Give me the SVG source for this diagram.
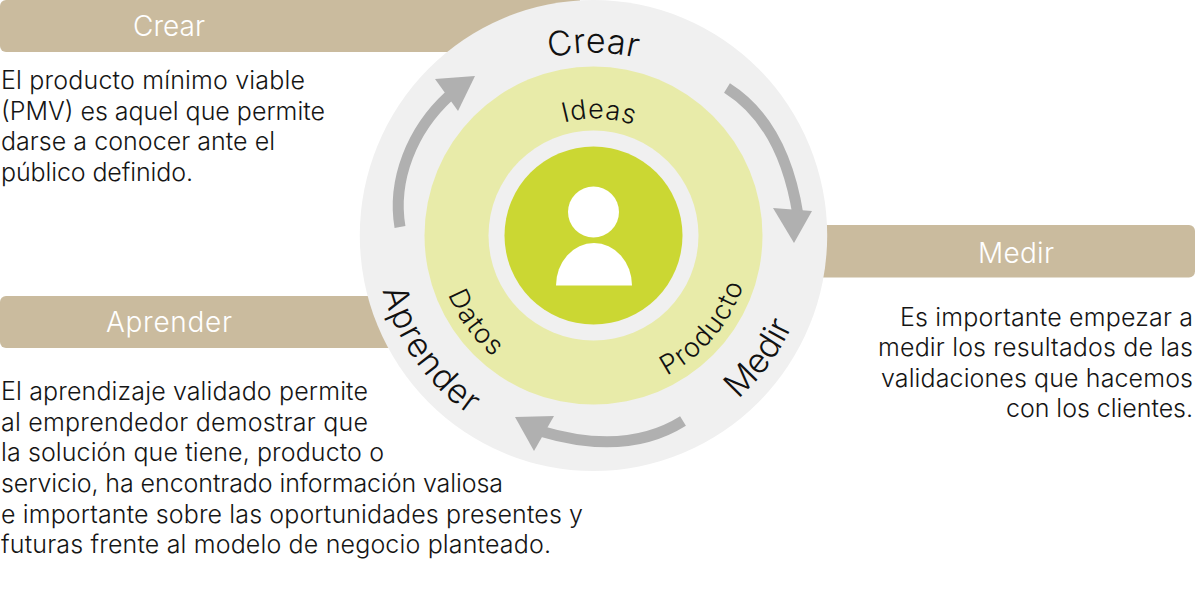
<svg xmlns="http://www.w3.org/2000/svg" width="1200" height="599" viewBox="0 0 1200 599">
<style>
.b{fill:#cabb9e}
.h{font:300 28px Inter,Lato,sans-serif;fill:#fff}
.t{font:300 25px Inter,Lato,sans-serif;fill:#151515}
.c{font:300 34px Inter,Lato,sans-serif;fill:#111}
.d{font:300 27px Inter,Lato,sans-serif;fill:#111}
.a{fill:none;stroke:#b0b0b0;stroke-width:11}
.ah{fill:#b0b0b0}
</style>
<defs>
<path id="pCrear" d="M549.500 58A182 182 0 0 1 637.500 58"/>
<path id="pIdeas" d="M564 122.500A117 117 0 0 1 633 125"/>
<path id="pAp" d="M382.500 290.200A218 218 0 0 0 469.700 414.900"/>
<path id="pMe" d="M737.900 398.800A218 218 0 0 0 792.500 325"/>
<path id="pDa" d="M447.900 294.300A157 157 0 0 0 493.600 356.700"/>
<path id="pPr" d="M666.700 375.500A158 158 0 0 0 743.400 285.400"/>
</defs>
<g id="bar-crear"><path class="b" d="M0 6a6 6 0 0 1 6-6H580V52H6a6 6 0 0 1-6-6Z"/><text class="h" x="133" y="36" textLength="72">Crear</text></g>
<g id="bar-aprender"><path class="b" d="M0 302a6 6 0 0 1 6-6H420V348H6a6 6 0 0 1-6-6Z"/><text class="h" x="106" y="332" textLength="126">Aprender</text></g>
<g id="bar-medir"><path class="b" d="M800 225H1189a6 6 0 0 1 6 6V271.500a6 6 0 0 1-6 6H800Z"/><text class="h" x="978" y="263" textLength="76">Medir</text></g>
<g id="ciclo">
<ellipse cx="593.500" cy="235.500" rx="233.700" ry="235.500" fill="#f0f0f0"/>
<circle cx="593.500" cy="235.500" r="169" fill="#e8eba9"/>
<circle cx="593.500" cy="235.500" r="105" fill="#f0f0f0"/>
<circle cx="593.500" cy="235.500" r="89" fill="#cbd733"/>
</g>
<g id="persona" fill="#fff"><circle cx="593.500" cy="212" r="25.500"/><path d="M556 285.500A38 42.500 0 0 1 632 285.500Z"/></g>
<g id="conectores">
<path class="a" d="M400 227C392 180 412 130 449 96"/><path class="ah" d="M435 79L475 76L458 111Z"/>
<path class="a" d="M727 88C770 115 790 165 798 215"/><path class="ah" d="M773 208L812 211L794 243Z"/>
<path class="a" d="M683 421C640 448 590 446 540 431"/><path class="ah" d="M515 417L554 416L534 451Z"/>
</g>
<g id="rotulos">
<text class="c"><textPath href="#pCrear" textLength="88">Crear</textPath></text>
<text class="d"><textPath href="#pIdeas" textLength="70">Ideas</textPath></text>
<text class="c"><textPath href="#pAp" textLength="155">Aprender</textPath></text>
<text class="c"><textPath href="#pMe" textLength="92">Medir</textPath></text>
<text class="d"><textPath href="#pDa" textLength="78">Datos</textPath></text>
<text class="d"><textPath href="#pPr" textLength="121">Producto</textPath></text>
</g>
<g id="texto-crear" class="t"><text x="1" y="89" textLength="304">El producto mínimo viable</text><text x="1" y="120" textLength="324">(PMV) es aquel que permite</text><text x="1" y="150" textLength="274">darse a conocer ante el</text><text x="1" y="181" textLength="192">público definido.</text></g>
<g id="texto-medir" class="t"><text x="900" y="326" textLength="293">Es importante empezar a</text><text x="878" y="356" textLength="315">medir los resultados de las</text><text x="881" y="387" textLength="312">validaciones que hacemos</text><text x="1006" y="417" textLength="187">con los clientes.</text></g>
<g id="texto-aprender" class="t"><text x="1" y="400" textLength="367">El aprendizaje validado permite</text><text x="1" y="431" textLength="367">al emprendedor demostrar que</text><text x="1" y="461" textLength="383">la solución que tiene, producto o</text><text x="1" y="492" textLength="502">servicio, ha encontrado información valiosa</text><text x="1" y="523" textLength="582">e importante sobre las oportunidades presentes y</text><text x="1" y="553" textLength="550">futuras frente al modelo de negocio planteado.</text></g>
</svg>
